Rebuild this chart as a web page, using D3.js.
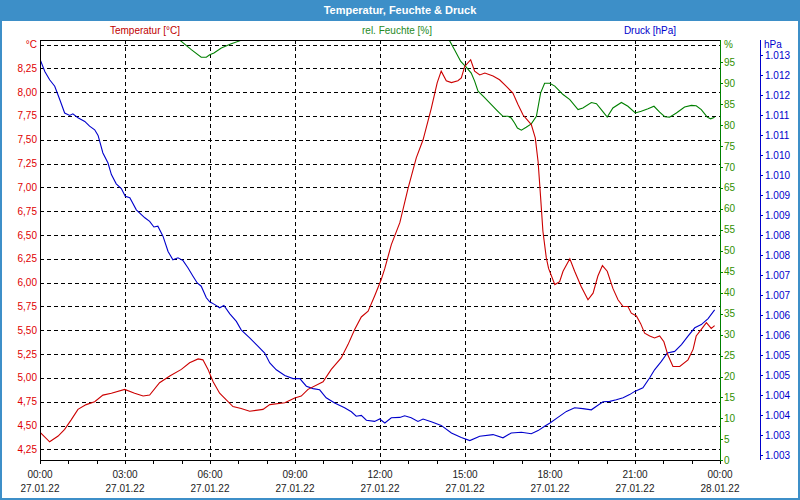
<!DOCTYPE html>
<html><head><meta charset="utf-8">
<script src="https://cdn.jsdelivr.net/npm/d3@7/dist/d3.min.js"></script>
<style>
html,body{margin:0;padding:0;background:#fff;}
text{font-family:"Liberation Sans",Arial,sans-serif;}
</style></head>
<body>
<svg id="chart" width="800" height="500"></svg>
<script>
// ---------- data ----------
const chartTitle = "Temperatur, Feuchte & Druck";
const seriesNames = ["Temperatur [°C]", "rel. Feuchte [%]", "Druck [hPa]"];

// hours since 27.01.22 00:00
const tempTimes = [0.00,0.34,0.64,0.87,1.10,1.34,1.63,1.93,2.22,2.52,2.99,3.34,3.64,3.87,4.22,4.58,4.99,5.28,5.58,5.75,5.93,6.11,6.34,6.81,7.10,7.40,7.87,8.11,8.64,8.99,9.22,9.46,9.99,10.28,10.63,10.87,11.11,11.34,11.58,11.81,12.04,12.17,12.40,12.70,12.99,13.28,13.52,13.81,14.02,14.16,14.34,14.52,14.75,14.87,14.99,15.20,15.34,15.52,15.70,15.99,16.22,16.46,16.69,16.87,17.05,17.34,17.48,17.58,17.67,17.75,17.87,17.95,18.17,18.34,18.46,18.70,18.87,19.10,19.34,19.52,19.69,19.85,20.02,20.22,20.40,20.58,20.75,20.87,21.05,21.20,21.34,21.52,21.69,21.87,22.02,22.16,22.34,22.58,22.87,23.05,23.16,23.34,23.52,23.69,23.81];
const tempValues = [4.43,4.33,4.39,4.46,4.56,4.67,4.72,4.75,4.82,4.84,4.88,4.84,4.81,4.82,4.95,5.02,5.09,5.16,5.20,5.19,5.09,4.96,4.84,4.70,4.68,4.65,4.67,4.72,4.74,4.79,4.81,4.88,4.96,5.09,5.21,5.35,5.51,5.64,5.70,5.86,6.03,6.15,6.40,6.63,6.99,7.31,7.50,7.83,8.10,8.22,8.12,8.10,8.12,8.15,8.27,8.34,8.22,8.18,8.20,8.17,8.13,8.06,7.99,7.87,7.76,7.66,7.52,7.27,6.89,6.54,6.26,6.15,5.98,6.01,6.12,6.25,6.12,5.96,5.82,5.89,6.07,6.18,6.12,5.94,5.82,5.75,5.75,5.68,5.65,5.57,5.47,5.44,5.42,5.44,5.38,5.24,5.12,5.12,5.19,5.30,5.44,5.51,5.58,5.52,5.55];

const humTimes = [0.00,4.60,4.93,5.34,5.69,5.87,5.99,6.14,6.40,6.75,7.05,7.40,14.10,14.46,14.63,14.85,15.05,15.22,15.34,15.46,15.64,15.93,16.16,16.34,16.52,16.63,16.75,16.85,16.99,17.16,17.34,17.52,17.67,17.81,17.99,18.17,18.46,18.70,18.99,19.16,19.46,19.64,19.81,20.02,20.22,20.52,20.75,21.01,21.22,21.46,21.67,21.87,22.05,22.22,22.46,22.75,22.99,23.16,23.34,23.55,23.67,23.81];
const humValues = [102,102,100.3,98.0,96.2,96.2,96.8,97.2,98.4,99.4,100.1,102,102,100.1,98.0,95.2,93.8,92.4,90.5,88.1,86.9,84.9,83.3,82.1,82.1,81.7,80.5,79.3,78.8,79.5,80.3,82.1,87.7,90.0,90.0,89.3,87.3,86.1,83.7,84.1,85.4,85.1,83.7,81.9,84.1,85.4,84.5,82.9,83.3,83.9,84.5,83.1,82.0,81.9,82.9,84.3,84.7,84.6,83.7,81.9,81.5,81.9];

const presTimes = [0.02,0.17,0.34,0.52,0.70,0.87,1.05,1.16,1.34,1.58,1.75,1.93,2.05,2.22,2.40,2.52,2.69,2.87,3.01,3.17,3.40,3.70,3.87,4.02,4.16,4.34,4.52,4.69,4.87,5.05,5.22,5.40,5.55,5.69,5.87,5.99,6.17,6.34,6.49,6.70,6.93,7.10,7.40,7.69,7.93,8.11,8.34,8.64,8.93,9.17,9.40,9.64,9.87,10.10,10.40,10.75,10.99,11.16,11.34,11.52,11.81,11.99,12.17,12.40,12.70,12.87,13.10,13.34,13.52,13.81,14.16,14.52,14.87,15.17,15.52,15.99,16.34,16.63,16.99,17.34,17.58,17.81,18.00,18.28,18.58,18.87,19.16,19.46,19.64,19.87,20.11,20.34,20.58,20.81,20.99,21.28,21.52,21.69,21.93,22.14,22.40,22.64,22.87,23.11,23.34,23.58,23.81];
const presValues = [1012.36,1012.09,1011.88,1011.72,1011.38,1011.05,1010.99,1011.03,1010.93,1010.84,1010.72,1010.63,1010.49,1010.05,1009.80,1009.51,1009.28,1009.16,1008.97,1008.93,1008.63,1008.43,1008.34,1008.20,1008.22,1007.97,1007.59,1007.38,1007.43,1007.36,1007.18,1006.97,1006.80,1006.72,1006.43,1006.33,1006.26,1006.18,1006.24,1006.03,1005.84,1005.63,1005.43,1005.22,1005.05,1004.80,1004.63,1004.49,1004.41,1004.41,1004.22,1004.16,1004.13,1003.93,1003.80,1003.68,1003.58,1003.47,1003.49,1003.37,1003.34,1003.40,1003.30,1003.43,1003.44,1003.48,1003.43,1003.34,1003.40,1003.33,1003.24,1003.05,1002.94,1002.86,1002.97,1003.01,1002.93,1003.05,1003.07,1003.03,1003.11,1003.22,1003.30,1003.44,1003.59,1003.68,1003.66,1003.63,1003.72,1003.83,1003.84,1003.88,1003.93,1004.01,1004.09,1004.18,1004.43,1004.63,1004.84,1005.05,1005.09,1005.26,1005.47,1005.68,1005.76,1005.91,1006.13];

// ticks
const timeTicks = [0,3,6,9,12,15,18,21,24];
const timeLabels = ["00:00","03:00","06:00","09:00","12:00","15:00","18:00","21:00","00:00"];
const dateLabels = ["27.01.22","27.01.22","27.01.22","27.01.22","27.01.22","27.01.22","27.01.22","27.01.22","28.01.22"];
const tempTicks = [4.25,4.5,4.75,5,5.25,5.5,5.75,6,6.25,6.5,6.75,7,7.25,7.5,7.75,8,8.25];
const tempTickLabels = ["4,25","4,50","4,75","5,00","5,25","5,50","5,75","6,00","6,25","6,50","6,75","7,00","7,25","7,50","7,75","8,00","8,25"];
const humTicks = [0,5,10,15,20,25,30,35,40,45,50,55,60,65,70,75,80,85,90,95];
const presTicks = [1002.5,1003,1003.5,1004,1004.5,1005,1005.5,1006,1006.5,1007,1007.5,1008,1008.5,1009,1009.5,1010,1010.5,1011,1011.5,1012,1012.5];
const presTickLabels = ["1.003","1.003","1.004","1.004","1.005","1.005","1.006","1.006","1.007","1.007","1.008","1.008","1.009","1.009","1.010","1.010","1.011","1.011","1.012","1.012","1.013"];

// ---------- layout ----------
const svg = d3.select("#chart");
const W = 800, H = 500;
const L = 40, R = 720, T = 40, B = 460, PX = 760;
const frameColor = "#3d8fc8";
const cTemp = "#cc0000", cHum = "#008000", cPres = "#0000cc";
const cTempTxt = "#e00000", cHumTxt = "#2f8f00", cPresTxt = "#0000cc";

const x = d3.scaleLinear().domain([0,24]).range([L,R]);
const yT = d3.scaleLinear().domain([4.25,8.5]).range([449.4,44.5]);
const yH = d3.scaleLinear().domain([0,100]).range([460.3,41.3]);
const yP = d3.scaleLinear().domain([1002.5,1012.5]).range([455,55]);

// frame
svg.append("rect").attr("x",0).attr("y",0).attr("width",W).attr("height",H).attr("fill",frameColor);
svg.append("rect").attr("x",2).attr("y",21).attr("width",W-4).attr("height",H-23).attr("fill","#fff");
svg.append("text").attr("x",400).attr("y",14).attr("text-anchor","middle")
  .attr("fill","#fff").attr("font-weight","bold").attr("font-size",11).text(chartTitle);

// series labels
const legX = [145, 397, 650], legC = ["#c00000", "#1f8a1f", cPres];
seriesNames.forEach((n,i)=>{
  svg.append("text").attr("x",legX[i]).attr("y",34).attr("text-anchor","middle")
    .attr("font-size",10).attr("fill",legC[i]).text(n);
});

// grid
const grid = svg.append("g").attr("stroke","#000").attr("stroke-dasharray","4,3").attr("shape-rendering","crispEdges");
tempTicks.concat([8.5]).forEach(t=>{
  const yy = Math.round(yT(t))+0.5;
  grid.append("line").attr("x1",L).attr("x2",R).attr("y1",yy).attr("y2",yy);
});
timeTicks.slice(1,-1).forEach(h=>{
  const xx = Math.round(x(h))+0.5;
  grid.append("line").attr("x1",xx).attr("x2",xx).attr("y1",T).attr("y2",B);
});

// axes lines
const ax = svg.append("g").attr("shape-rendering","crispEdges");
ax.append("line").attr("x1",L+0.5).attr("x2",L+0.5).attr("y1",T).attr("y2",B+0.5).attr("stroke","#000");
ax.append("line").attr("x1",L).attr("x2",R).attr("y1",T+0.5).attr("y2",T+0.5).attr("stroke","#000");
ax.append("line").attr("x1",L).attr("x2",R).attr("y1",B+0.5).attr("y2",B+0.5).attr("stroke","#000");
ax.append("line").attr("x1",R+0.5).attr("x2",R+0.5).attr("y1",T).attr("y2",B+1).attr("stroke",cHum).attr("stroke-width",1.4);
ax.append("line").attr("x1",PX+0.5).attr("x2",PX+0.5).attr("y1",T).attr("y2",B).attr("stroke",cPres);

// x ticks (hourly)
d3.range(0,25).forEach(h=>{
  const xx = Math.round(x(h))+0.5;
  ax.append("line").attr("x1",xx).attr("x2",xx).attr("y1",B).attr("y2",B+4).attr("stroke","#000");
});
timeTicks.forEach((h,i)=>{
  svg.append("text").attr("x",x(h)).attr("y",478).attr("text-anchor","middle").attr("font-size",10).attr("fill","#222").text(timeLabels[i]);
  svg.append("text").attr("x",x(h)).attr("y",492).attr("text-anchor","middle").attr("font-size",10).attr("fill","#222").text(dateLabels[i]);
});

// left temperature labels
tempTicks.forEach((t,i)=>{
  svg.append("text").attr("x",37).attr("y",yT(t)).attr("dy","0.35em").attr("text-anchor","end")
    .attr("font-size",10).attr("fill",cTempTxt).text(tempTickLabels[i]);
});
svg.append("text").attr("x",37).attr("y",yT(8.5)).attr("dy","0.35em").attr("text-anchor","end")
  .attr("font-size",10).attr("fill",cTempTxt).text("°C");

// humidity axis
humTicks.forEach(v=>{
  const yy = Math.round(yH(v))+0.5;
  ax.append("line").attr("x1",R).attr("x2",R+3).attr("y1",yy).attr("y2",yy).attr("stroke",cHum);
  svg.append("text").attr("x",724).attr("y",yH(v)).attr("dy","0.35em").attr("font-size",10).attr("fill",cHumTxt).text(v);
});
svg.append("text").attr("x",724).attr("y",44.5).attr("dy","0.35em").attr("font-size",10).attr("fill",cHumTxt).text("%");

// pressure axis
presTicks.forEach((v,i)=>{
  const yy = Math.round(yP(v))+0.5;
  ax.append("line").attr("x1",PX).attr("x2",PX+3).attr("y1",yy).attr("y2",yy).attr("stroke",cPres);
  svg.append("text").attr("x",765).attr("y",yP(v)).attr("dy","0.35em").attr("font-size",10).attr("fill",cPresTxt).text(presTickLabels[i]);
});
svg.append("text").attr("x",764).attr("y",44.5).attr("dy","0.35em").attr("font-size",10).attr("fill",cPresTxt).text("hPa");

// clip
svg.append("clipPath").attr("id","plotclip").append("rect").attr("x",L+1).attr("y",T+1).attr("width",R-L-1).attr("height",B-T-1);
const plot = svg.append("g").attr("clip-path","url(#plotclip)");

function drawLine(times, vals, ys, color){
  const pts = times.map((t,i)=>[t, vals[i]]);
  plot.append("path").datum(pts)
    .attr("d", d3.line().x(d=>x(d[0])).y(d=>ys(d[1])))
    .attr("fill","none").attr("stroke",color).attr("stroke-width",1.1);
}
drawLine(humTimes, humValues, yH, cHum);
drawLine(presTimes, presValues, yP, cPres);
drawLine(tempTimes, tempValues, yT, cTemp);
</script>
</body></html>
